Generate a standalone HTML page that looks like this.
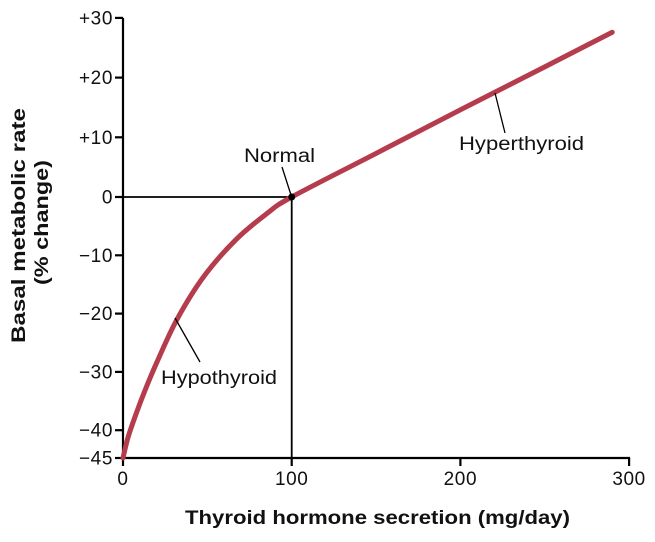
<!DOCTYPE html>
<html><head><meta charset="utf-8"><style>
body{margin:0;background:#fff}
svg text{font-family:"Liberation Sans",Arial,sans-serif;fill:#111}
</style></head><body>
<svg width="655" height="537" viewBox="0 0 655 537" xmlns="http://www.w3.org/2000/svg">
<g id="axes"></g><g id="marks"></g>
</svg>
<script>
const xTicks=[0,100,200,300];
const yTicks=[30,20,10,0,-10,-20,-30,-40,-45];
const yTickLabels=["+30","+20","+10","0","\u221210","\u221220","\u221230","\u221240","\u221245"];
const secretion=[0,3,8,13,20,32,48,67,85,100,150,200,250,290];
const bmrChange=[-45,-41.3,-37,-33.2,-28.4,-21,-13.6,-7.3,-2.9,0,7.3,14.6,21.8,27.6];
const NS="http://www.w3.org/2000/svg";
const X=v=>123+v*1.687;
const Y=v=>v>=0?197-v*5.97:(v>=-40?197-v*5.83:430+(-40-v)*5.6);
function el(t,a,p,txt){const e=document.createElementNS(NS,t);for(const k in a)e.setAttribute(k,a[k]);if(txt!==undefined)e.textContent=txt;p.appendChild(e);return e;}
const ax=document.getElementById('axes'),mk=document.getElementById('marks');
let e=el('line',{x1:X(0),y1:Y(30),x2:X(0),y2:Y(-45)+1,stroke:'#000','stroke-width':2.2},ax);

e=el('line',{x1:X(0)-1,y1:Y(-45),x2:X(300)+1,y2:Y(-45),stroke:'#000','stroke-width':2.2},ax);

yTicks.forEach((v,i)=>{
 let t=el('line',{x1:X(0)-8,y1:Y(v),x2:X(0),y2:Y(v),stroke:'#000','stroke-width':2.2},ax);
 
 let l=el('text',{x:X(0)-10,y:Y(v)+6.5,'text-anchor':'end','font-size':19,'letter-spacing':0.6},ax,yTickLabels[i]);
 
});
xTicks.forEach(v=>{
 let t=el('line',{x1:X(v),y1:Y(-45),x2:X(v),y2:Y(-45)+8,stroke:'#000','stroke-width':2.2},ax);
 
 let l=el('text',{x:X(v),y:Y(-45)+27,'text-anchor':'middle','font-size':19,'letter-spacing':0.6},ax,String(v));
 
});
e=el('text',{x:185,y:524,'font-size':19,'font-weight':'bold',textLength:385,lengthAdjust:'spacingAndGlyphs'},ax,'Thyroid hormone secretion (mg/day)');

const yt=el('g',{},ax);

el('text',{transform:'translate(25,343) rotate(-90)','font-size':19,'font-weight':'bold',textLength:235,lengthAdjust:'spacingAndGlyphs'},yt,'Basal metabolic rate');
el('text',{transform:'translate(48,285) rotate(-90)','font-size':19,'font-weight':'bold',textLength:125,lengthAdjust:'spacingAndGlyphs'},yt,'(% change)');
e=el('polyline',{points:`${X(0)},${Y(0)} ${X(100)},${Y(0)} ${X(100)},${Y(-45)}`,fill:'none',stroke:'#000','stroke-width':1.8},mk);

const P=secretion.map((s,i)=>[X(s),Y(bmrChange[i])]);
let d='M'+P[0][0]+','+P[0][1];
for(let i=0;i<P.length-1;i++){const p0=P[Math.max(i-1,0)],p1=P[i],p2=P[i+1],p3=P[Math.min(i+2,P.length-1)];
 d+=` C${p1[0]+(p2[0]-p0[0])/6},${p1[1]+(p2[1]-p0[1])/6} ${p2[0]-(p3[0]-p1[0])/6},${p2[1]-(p3[1]-p1[1])/6} ${p2[0]},${p2[1]}`;}
e=el('path',{d:d,fill:'none',stroke:'#b53c4d','stroke-width':5,'stroke-linecap':'round'},mk);

e=el('circle',{cx:X(100),cy:Y(0),r:3.5,fill:'#000'},mk);

const ann=[['Normal',244,162,71,282,167,291,195],['Hyperthyroid',459,150,125,505,133,495,93],['Hypothyroid',161,384,116,200,362,175,318]];
ann.forEach(a=>{
 let t=el('text',{x:a[1],y:a[2],'font-size':19,textLength:a[3],lengthAdjust:'spacingAndGlyphs'},mk,a[0]);
 
 let l=el('line',{x1:a[4],y1:a[5],x2:a[6],y2:a[7],stroke:'#000','stroke-width':1.3},mk);
 
});
</script>
</body></html>
